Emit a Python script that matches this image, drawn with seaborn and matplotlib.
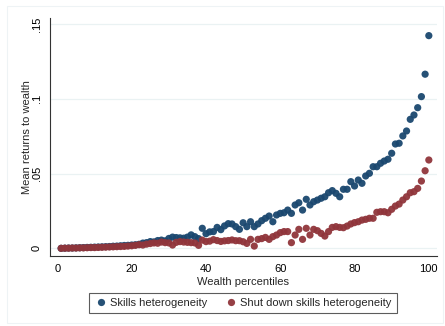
import numpy as np
import pandas as pd
import seaborn as sns
import matplotlib.pyplot as plt
from matplotlib.patches import Rectangle

# Mean returns to wealth by wealth percentile (1..100)
percentiles = list(range(1, 101))

skills_het = [
    0.0000, 0.0001, 0.0002, 0.0002, 0.0003, 0.0004, 0.0005, 0.0006, 0.0007, 0.0008,
    0.0009, 0.0010, 0.0011, 0.0012, 0.0014, 0.0015, 0.0017, 0.0019, 0.0020, 0.0022,
    0.0024, 0.0027, 0.0035, 0.0038, 0.0045, 0.0043, 0.0052, 0.0055, 0.0050, 0.0066,
    0.0075, 0.0072, 0.0070, 0.0068, 0.0075, 0.0090, 0.0078, 0.0065, 0.0134, 0.0098,
    0.0110, 0.0112, 0.0140, 0.0125, 0.0150, 0.0165, 0.0163, 0.0145, 0.0127, 0.0171,
    0.0145, 0.0178, 0.0145, 0.0163, 0.0185, 0.0201, 0.0216, 0.0178, 0.0223, 0.0234,
    0.0238, 0.0256, 0.0234, 0.0290, 0.0305, 0.0256, 0.0328, 0.0290, 0.0312, 0.0323,
    0.0335, 0.0345, 0.0372, 0.0386, 0.0368, 0.0345, 0.0395, 0.0395, 0.0446, 0.0417,
    0.0457, 0.0435, 0.0484, 0.0502, 0.0546, 0.0546, 0.0569, 0.0584, 0.0596, 0.0636,
    0.0698, 0.0703, 0.0752, 0.0785, 0.0863, 0.0892, 0.0941, 0.1015, 0.1165, 0.1423,
]

shutdown_het = [
    0.0000, 0.0001, 0.0001, 0.0002, 0.0002, 0.0003, 0.0003, 0.0004, 0.0005, 0.0005,
    0.0006, 0.0007, 0.0008, 0.0009, 0.0010, 0.0011, 0.0012, 0.0013, 0.0015, 0.0017,
    0.0020, 0.0024, 0.0022, 0.0028, 0.0032, 0.0036, 0.0034, 0.0042, 0.0038, 0.0036,
    0.0022, 0.0040, 0.0045, 0.0042, 0.0040, 0.0038, 0.0036, 0.0020, 0.0055, 0.0045,
    0.0048, 0.0058, 0.0052, 0.0046, 0.0050, 0.0052, 0.0056, 0.0051, 0.0051, 0.0044,
    0.0033, 0.0060, 0.0015, 0.0060, 0.0065, 0.0073, 0.0060, 0.0078, 0.0089, 0.0105,
    0.0112, 0.0112, 0.0038, 0.0089, 0.0127, 0.0060, 0.0134, 0.0089, 0.0127, 0.0118,
    0.0100, 0.0082, 0.0112, 0.0140, 0.0145, 0.0140, 0.0138, 0.0149, 0.0163, 0.0172,
    0.0178, 0.0189, 0.0194, 0.0201, 0.0201, 0.0241, 0.0245, 0.0245, 0.0238, 0.0261,
    0.0283, 0.0296, 0.0323, 0.0345, 0.0372, 0.0379, 0.0401, 0.0450, 0.0519, 0.0591,
]

series_names = ["Skills heterogeneity", "Shut down skills heterogeneity"]
series_colors = ["#1a476f", "#90353b"]

x_ticks = [0, 20, 40, 60, 80, 100]
y_ticks = [0, 0.05, 0.10, 0.15]
y_tick_labels = ["0", ".05", ".1", ".15"]

df = pd.DataFrame({
    "percentile": percentiles * 2,
    "value": skills_het + shutdown_het,
    "series": [series_names[0]] * len(percentiles) + [series_names[1]] * len(percentiles),
})

sns.set_style("white")
plt.rcParams["font.family"] = ["Liberation Sans", "DejaVu Sans"]

fig = plt.figure(figsize=(4.45, 3.26), dpi=100)
fig.patch.set_facecolor("white")
ax = fig.add_axes([50 / 445, 1 - 255.5 / 326, 387 / 445, 237.5 / 326])

sns.scatterplot(
    data=df, x="percentile", y="value", hue="series",
    hue_order=series_names, palette=series_colors,
    s=27, linewidth=0, alpha=0.95, ax=ax, zorder=3,
)

ax.set_xlim(-2.0, 102.2)
ax.set_ylim(-0.0048, 0.1541)
ax.set_xticks(x_ticks)
ax.set_yticks(y_ticks)
ax.set_yticklabels(y_tick_labels, rotation=90, va="center")
ax.grid(axis="y", color="#eaf2f3", linewidth=0.9, zorder=0)
ax.grid(axis="x", visible=False)

for side in ["top", "right"]:
    ax.spines[side].set_visible(False)
for side in ["left", "bottom"]:
    ax.spines[side].set_color("#333333")
    ax.spines[side].set_linewidth(0.8)

ax.tick_params(axis="both", direction="out", length=4, width=0.8,
               color="#333333", labelsize=8, labelcolor="black", pad=2)
ax.tick_params(axis="y", pad=2)
ax.set_xlabel("Wealth percentiles", fontsize=8, labelpad=2)
ax.set_ylabel("Mean returns to wealth", fontsize=8, labelpad=0)

handles, labels = ax.get_legend_handles_labels()
ax.get_legend().remove()
leg = fig.legend(
    handles, labels, loc="center", bbox_to_anchor=(0.546, 1 - 302.5 / 326),
    ncol=2, fontsize=8, frameon=True, fancybox=False,
    handletextpad=0.2, columnspacing=1.6, borderpad=0.45, handlelength=1.2,
    markerscale=1.0,
)
leg.get_frame().set_edgecolor("#333333")
leg.get_frame().set_linewidth(0.8)

# faint outer border of the graph region
fig.add_artist(Rectangle((7 / 445, 1 - 323 / 326), 436 / 445, 317 / 326,
                         transform=fig.transFigure, fill=False,
                         edgecolor="#eef3f5", linewidth=0.8))

fig.savefig("out.png", dpi=100, facecolor="white")
